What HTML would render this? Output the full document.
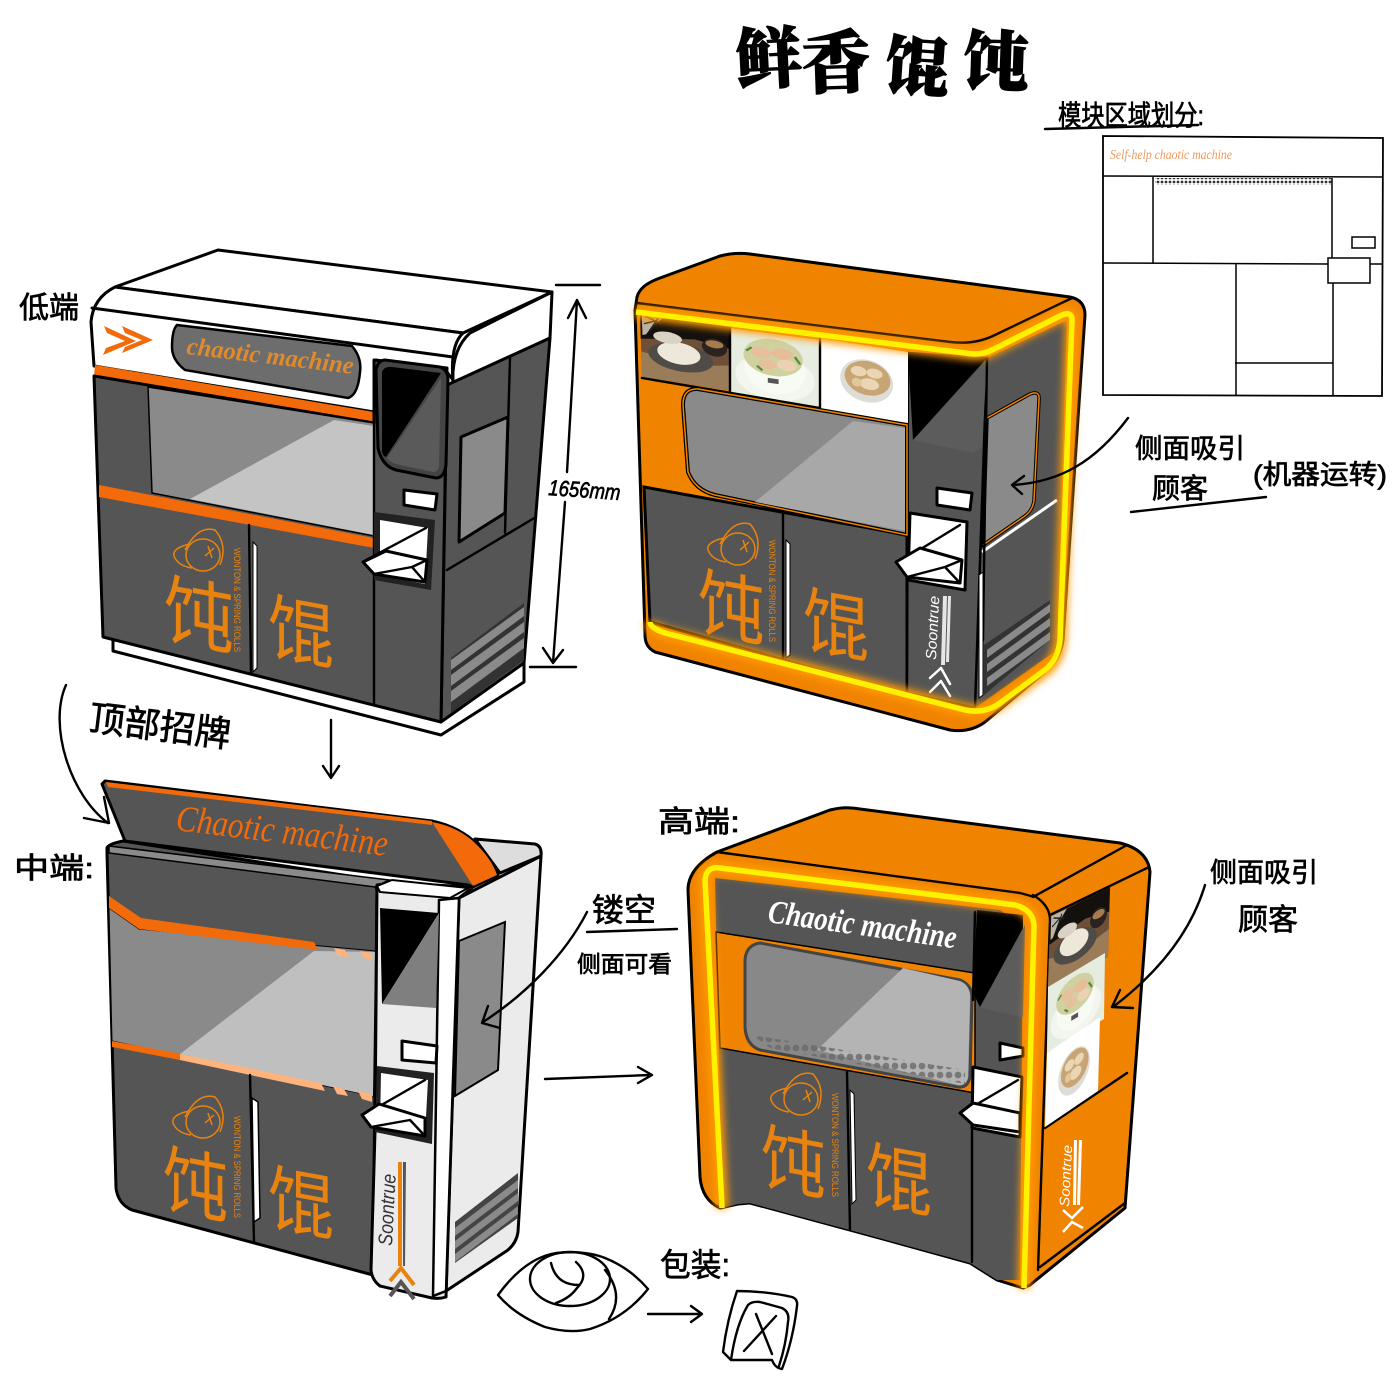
<!DOCTYPE html>
<html lang="zh"><head><meta charset="utf-8"><title>鲜香馄饨</title>
<style>
html,body{margin:0;padding:0;background:#fff}
svg{display:block}
.h{font-family:"Liberation Sans","WenQuanYi Zen Hei","Noto Sans CJK SC",sans-serif;fill:#000;stroke:#000;stroke-width:.7}
.lg{font-family:"Liberation Sans","Noto Sans CJK SC",sans-serif;fill:#e8830f}
.w{font-family:"Liberation Sans",sans-serif;fill:#e8830f}
.s{fill:none;stroke:#000;stroke-width:2.4;stroke-linecap:round;stroke-linejoin:round}
.o{stroke:#000;stroke-width:3;stroke-linejoin:round}
.tt{font-family:"Noto Serif CJK SC",serif;font-weight:900;fill:#000;stroke:#000;stroke-width:1.5}
</style></head><body>
<svg xmlns="http://www.w3.org/2000/svg" width="1400" height="1400" viewBox="0 0 1400 1400">
<defs>
<filter id="b" x="-20%" y="-20%" width="140%" height="140%"><feGaussianBlur stdDeviation="4"/></filter>
<pattern id="d" width="4" height="4" patternUnits="userSpaceOnUse"><circle cx="2" cy="2" r="1.4" fill="#333"/></pattern>
<pattern id="d2" width="9" height="9" patternUnits="userSpaceOnUse"><circle cx="4" cy="4" r="3.4" fill="#6a6a6a"/></pattern>
<g id="p1"><rect width="100" height="100" fill="#6e5038"/><path d="M0 0H100V35L60 28L0 40Z" fill="#14100e"/><path d="M2 0H28L14 16L6 32L2 34Z" fill="#b9b3a8"/><path d="M6 4L24 12M4 16L18 8M10 26L20 4" stroke="#222" stroke-width="2"/><path d="M0 60L60 70L100 60V100H0Z" fill="#9a7c58"/><ellipse cx="44" cy="60" rx="36" ry="22" fill="#4f4c48"/><ellipse cx="42" cy="54" rx="24" ry="17" fill="#eee8da"/><ellipse cx="30" cy="32" rx="16" ry="9" fill="#d9d3c6"/><ellipse cx="82" cy="36" rx="14" ry="14" fill="#2a2320"/><ellipse cx="82" cy="31" rx="10" ry="6" fill="#a77b4d"/></g>
<g id="p2"><rect width="100" height="100" fill="#e7ece0"/><ellipse cx="50" cy="64" rx="44" ry="34" fill="#f3f6ee"/><ellipse cx="50" cy="52" rx="34" ry="36" fill="#f8faf4"/><ellipse cx="48" cy="35" rx="33" ry="27" fill="#cfd1a0"/><ellipse cx="35" cy="30" rx="11" ry="8" fill="#e8bf9c"/><ellipse cx="58" cy="28" rx="12" ry="8" fill="#e6bd98"/><ellipse cx="42" cy="46" rx="10" ry="7" fill="#e8bf9c"/><ellipse cx="63" cy="44" rx="11" ry="8" fill="#ecd2b2"/><path d="M18 30L24 24M72 30L78 40M30 50L36 56" stroke="#5c8a3c" stroke-width="3"/><rect x="42" y="66" width="12" height="7" fill="#555"/></g>
<g id="p3"><rect width="100" height="100" fill="#fff"/><ellipse cx="53" cy="50" rx="30" ry="30" fill="#dedcd6"/><ellipse cx="54" cy="46" rx="26" ry="24" fill="#c8a574"/><ellipse cx="44" cy="38" rx="9" ry="7" fill="#ead6b4"/><ellipse cx="62" cy="38" rx="9" ry="7" fill="#ead6b4"/><ellipse cx="56" cy="54" rx="11" ry="8" fill="#ead6b4"/><ellipse cx="42" cy="54" rx="6" ry="6" fill="#e2c79d"/></g>
</defs>
<rect width="1400" height="1400" fill="#fff"/>

<!-- title -->
<text class="tt" transform="translate(737 84) rotate(-3)" font-size="66">鲜</text>
<text class="tt" transform="translate(803 88) rotate(-2)" font-size="68">香</text>
<text class="tt" transform="translate(884 88) rotate(4)" font-size="64">馄</text>
<text class="tt" transform="translate(962 84) rotate(2)" font-size="66">饨</text>

<!-- MACHINE 1 -->
<path class="o" d="M113 640V651L441 735L524 682V660Z" fill="#fff"/>
<path class="o" d="M115 287L218 250L552 292L463 333Z" fill="#fff"/>
<path class="o" d="M552 292L550 338L453 385Q451 350 470 333Z" fill="#fff"/>
<path class="o" d="M447 385L550 338L524 663L441 722Z" fill="#555"/>
<path class="o" d="M461 437L508 417L505 513L459 542Z" fill="#8a8a8a" stroke-width="1.5"/>
<path class="s" d="M510 358L505 533M447 570L536 517"/>
<path class="o" d="M91 322Q93 298 115 287L463 333Q450 345 453 380L447 372L376 360L374 412L94 366Z" fill="#fff"/>
<path class="s" d="M92 308L453 357" style="stroke-width:3"/>
<path d="M95 365L374 412V423L94 376Z" fill="#f26a0a"/>
<path class="o" d="M94 376L374 423V360L447 368L441 722L103 637Z" fill="#555"/>
<path d="M148 387L374 423V536L152 493Z" fill="#8a8a8a" stroke="#000" stroke-width="1.5"/>
<path d="M334 420L374 426V535L190 499Z" fill="#c4c4c4"/>
<path d="M99 485L374 538V548L99 497Z" fill="#f26a0a"/>
<path class="s" d="M374 420V705"/>
<path class="s" d="M249 525L251 673"/>
<path d="M253 542L257 546V668L253 672Z" fill="#fff" stroke="#000"/>
<path class="o" d="M376 370Q378 360 385 360L440 367Q448 370 448 380L446 465Q444 478 436 478L396 470Q382 466 378 448Z" fill="#444"/>
<path d="M382 372Q384 366 392 367L441 373L386 457Q382 456 382 450Z" fill="#000"/>
<path d="M441 378L439 466Q438 472 433 472L396 464Q390 462 387 458Z" fill="#5a5a5a"/>
<path class="o" d="M404 490L437 494L435 510L404 505Z" fill="#fff"/>
<path d="M374 512L435 520L431 590L374 580Z" fill="#222"/>
<path d="M380 520L428 528L425 584L380 575Z" fill="#fff"/>
<path class="s" d="M366 560L426 528M386 551L427 560"/>
<path class="o" d="M363 562L386 551L427 560L425 582L374 574Z" fill="#fff" stroke-width="2"/>
<path class="s" d="M374 574L412 567L425 582M412 567L427 560"/>
<path d="M451 658L524 603V660L451 713Z" fill="#333"/>
<path d="M451 660L524 607V616L451 670ZM451 675L524 622V632L451 686ZM451 691L524 638V648L451 702Z" fill="#8a8a8a"/>
<path d="M177 325L352 346Q362 358 360 372Q358 395 348 398L185 370Q172 360 172 347Q172 330 177 325Z" fill="#6d6d6d" stroke="#000" stroke-width="2.5"/>
<text transform="translate(186 354) rotate(6.8)" font-size="25" font-weight="700" font-style="italic" style="font-family:'Liberation Serif',serif" fill="#e08a2e" textLength="168" lengthAdjust="spacingAndGlyphs">chaotic machine</text>
<path d="M104 326L136 341L103 355L106 348L125 341L107 333ZM122 326L153 340L122 353L125 347L142 340L125 333Z" fill="#f26a0a"/>
<g fill="none" stroke="#e8830f" stroke-width="1.5"><path d="M190 544Q172 548 174 556Q178 566 192 568"/><ellipse cx="203" cy="555" rx="17" ry="16"/><path d="M185 550Q198 525 215 530Q228 545 220 565M205 556L214 548M208 546L212 558"/></g>
<text class="lg" transform="matrix(.92 .17 0 1 164 636)" font-size="76">饨</text>
<text class="lg" transform="matrix(.92 .17 0 1 268 652)" font-size="72">馄</text>
<text class="w" transform="translate(234 548) rotate(90)" font-size="9.5" textLength="104" lengthAdjust="spacingAndGlyphs">WONTON &amp; SPRING ROLLS</text>

<!-- labels -->
<text class="h" x="19" y="318" font-size="30">低端</text>
<text class="h" transform="translate(88 730) rotate(7)" font-size="36" textLength="142" lengthAdjust="spacingAndGlyphs">顶部招牌</text>
<text class="h" transform="translate(548 495) rotate(4)" font-size="22" font-style="italic" textLength="72" lengthAdjust="spacingAndGlyphs">1656mm</text>
<path class="s" d="M556 285H600M530 667H576M577 300L567 472M565 502L553 663M568 318L577 300L586 318M543 648L553 663L563 650"/>
<path class="s" d="M66 685C48 725 70 795 108 823M104 797L109 823L84 818M331 720V776M323 766L331 778L339 766"/>

<!-- MACHINE 2 -->
<path class="o" d="M637 297Q640 285 660 278L720 256Q735 252 750 254L1070 297Q1085 300 1085 315L1063 640Q1060 660 1045 672L985 722Q970 733 950 730L655 652Q645 647 645 635L635 310Z" fill="#f08300"/>
<path class="s" d="M637 303L950 342Q975 345 995 335L1072 298"/>
<path d="M987 358L1067 320L1057 650L975 708Z" fill="#555"/>
<path d="M987 418L1030 394Q1040 390 1039 400L1034 500Q1033 510 1025 516L983 545Z" fill="#8a8a8a" stroke="#000" stroke-width="3.5"/>
<path d="M987 418L1030 394Q1040 390 1039 400L1034 500Q1033 510 1025 516L983 545" fill="none" stroke="#f08300" stroke-width="1.5"/>
<path d="M982 552L1057 500" stroke="#fff" stroke-width="3"/>
<path d="M984 645L1050 600V640L984 695Z" fill="#333"/>
<path d="M987 650L1050 604V612L987 658ZM987 664L1050 618V626L987 672ZM987 678L1050 632V640L987 686Z" fill="#8a8a8a"/>
<path d="M644 487L907 535V693L910 696L650 622Z" fill="#555" stroke="#000" stroke-width="3"/>
<path d="M908 353L987 358L975 708L907 693Z" fill="#555" stroke="#000" stroke-width="2.5"/>
<use href="#p1" transform="matrix(.9 .14 .02 .64 640 313)"/>
<use href="#p2" transform="matrix(.9 .12 0 .68 730 328)"/>
<use href="#p3" transform="matrix(.88 .14 0 .71 820 338)"/>
<path class="s" d="M730 328V393M820 338V408M642 378L820 408"/>
<path d="M698 389L907 425V535L715 495Q695 490 688 472L683 405Q683 388 698 389Z" fill="#8a8a8a" stroke="#000" stroke-width="4"/>
<path d="M698 389L907 425V535L715 495Q695 490 688 472L683 405Q683 388 698 389Z" fill="none" stroke="#f08300" stroke-width="1.5"/>
<path d="M853 421L905 428V531L755 502Z" fill="#a8a8a8"/>
<path d="M908 352L987 358L913 440Z" fill="#000"/>
<path d="M987 360L982 447L973 453L913 440Z" fill="#5c5c5c"/>
<path class="s" d="M783 513V660M987 358L983 640"/>
<path d="M786 540L790 544V655L786 658Z" fill="#fff" stroke="#000"/>
<path d="M979 575L983 572V695L979 698Z" fill="#fff" stroke="#000"/>
<path class="o" d="M937 488L972 493L970 510L937 505Z" fill="#fff"/>
<path class="o" d="M910 513L967 522L965 590L908 580Z" fill="#fff"/>
<path class="s" d="M898 563L960 525M920 548L962 560"/>
<path class="o" d="M896 562L920 548L962 560L960 583L907 577Z" fill="#fff" stroke-width="2"/>
<path class="s" d="M907 577L945 567L960 583M945 567L962 560"/>
<g fill="none" stroke="#e8830f" stroke-width="1.5"><path d="M724 538Q706 542 708 550Q712 560 726 562"/><ellipse cx="738" cy="549" rx="17" ry="16"/><path d="M720 544Q733 519 750 524Q763 539 755 559M740 550L749 542M743 540L747 552"/></g>
<text class="lg" transform="matrix(.9 .17 0 1 698 628)" font-size="74">饨</text>
<text class="lg" transform="matrix(.92 .17 0 1 803 645)" font-size="72">馄</text>
<text class="w" transform="translate(769 540) rotate(90)" font-size="9.5" textLength="102" lengthAdjust="spacingAndGlyphs">WONTON &amp; SPRING ROLLS</text>
<text transform="translate(936 660) rotate(-87)" font-size="15" font-style="italic" font-family="Liberation Sans,sans-serif" fill="#fff" textLength="64" lengthAdjust="spacingAndGlyphs">Soontrue</text>
<path d="M943 596L947 596L945 665H941ZM948 596L951 596L949 662H946Z" fill="#e6e6e6"/>
<path class="s" d="M930 678L941 668L950 684M930 692L941 681L950 696" style="stroke:#fff;stroke-width:2.5"/>
<path d="M636 312L965 353Q980 356 992 350L1060 316Q1072 310 1072 320L1060 640Q1058 660 1045 670L1000 703Q985 714 965 710L665 633Q650 628 650 622" fill="none" stroke="#ff9a00" stroke-width="13" filter="url(#b)"/>
<path d="M636 312L965 353Q980 356 992 350L1060 316Q1072 310 1072 320L1060 640Q1058 660 1045 670L1000 703Q985 714 965 710L665 633Q650 628 650 622" fill="none" stroke="#fff200" stroke-width="5.5"/>

<!-- arrow 2 -->
<path class="s" d="M1128 418C1095 462 1060 482 1013 485M1024 476L1012 485L1022 494"/>
<text class="h" x="1135" y="458" font-size="27" textLength="110" lengthAdjust="spacingAndGlyphs">侧面吸引</text>
<text class="h" x="1152" y="498" font-size="28">顾客</text>
<text class="h" x="1253" y="484" font-size="27" textLength="134" lengthAdjust="spacingAndGlyphs">(机器运转)</text>
<path class="s" d="M1131 512L1266 497"/>

<!-- module diagram -->
<text class="h" x="1058" y="125" font-size="28" textLength="146" lengthAdjust="spacingAndGlyphs">模块区域划分:</text>
<path class="s" d="M1045 129L1198 125" style="stroke-width:2.5"/>
<path d="M1103 136L1383 138L1382 396L1103 395Z" fill="#fff" stroke="#000" stroke-width="1.8"/>
<path d="M1155 178H1332V185H1155Z" fill="url(#d)"/>
<path fill="none" stroke="#000" stroke-width="1.5" d="M1103 176L1383 177M1153 177V263M1332 178V258M1103 263L1328 264M1370 264H1383M1236 263V395M1333 283V395M1235 363H1333M1328 258H1370V283H1328ZM1352 237H1375V248H1352Z"/>
<text x="1110" y="159" font-size="14" fill="#ef9a5c" font-family="Liberation Serif,serif" font-style="italic" textLength="122" lengthAdjust="spacingAndGlyphs">Self-help chaotic machine</text>

<!-- MACHINE 3 -->
<path class="o" d="M475 839L535 844Q542 846 541 856L500 873Z" fill="#ddd"/>
<path class="o" d="M459 898L541 856L518 1232Q516 1245 505 1252L446 1291Z" fill="#ebebeb"/>
<path d="M459 941L505 922L498 1070L455 1096Z" fill="#8a8a8a" stroke="#000" stroke-width="2"/>
<path d="M455 1222L518 1173V1218L455 1263Z" fill="#444"/>
<path d="M455 1228L518 1180V1188L455 1236ZM455 1241L518 1193V1201L455 1249ZM455 1254L518 1206V1214L455 1262Z" fill="#8a8a8a"/>
<path class="o" d="M107 853V848Q108 844 123 841L375 880L377 891L373 1275L132 1210Q118 1204 116 1188Z" fill="#555"/>
<path d="M109 846L389 880L375 887L109 853Z" fill="#8a8a8a" stroke="#000" stroke-width="1.5"/>
<path d="M109 908L139 929L375 951L373 1096L112 1041Z" fill="#8a8a8a" stroke="#000" stroke-width="1"/>
<path d="M314 951L375 952L373 1096L180 1054Z" fill="#bfbfbf"/>
<path d="M109 896L141 918L314 942L318 950L139 929L109 908Z" fill="#f26a0a"/>
<path d="M334 948L345 950L349 957L338 956ZM360 951L372 953V960L364 958Z" fill="#ffb37d"/>
<path d="M112 1041L182 1054L180 1060L112 1047Z" fill="#f26a0a"/>
<path d="M180 1054L321 1083L325 1091L180 1060ZM333 1086L344 1089L348 1096L337 1094ZM358 1091L372 1094V1102L362 1099Z" fill="#ffb37d"/>
<path class="o" d="M102 784L105 781L432 821Q460 827 478 845Q492 860 498 875L473 887L468 885L125 841Z" fill="#555"/>
<path d="M106 782L432 821V825L108 787Z" fill="#f26a0a"/>
<path d="M432 822Q460 827 478 846Q492 860 497 875L473 886Z" fill="#f26a0a"/>
<text transform="translate(175 830) rotate(7)" font-size="37" font-style="italic" style="font-family:'Liberation Serif',serif" fill="#f26a0a" textLength="213" lengthAdjust="spacingAndGlyphs">Chaotic machine</text>
<path class="o" d="M377 885L394 883L473 887L459 898L446 1297Q440 1299 432 1298L380 1286Q372 1280 371 1270L375 1132Z" fill="#ebebeb"/>
<path d="M439 900L459 898L446 1291L433 1296Z" fill="#fff" stroke="#000" stroke-width="2.5"/>
<path d="M377 886L392 880L468 888L450 898L380 892Z" fill="#fff" stroke="#000" stroke-width="2"/>
<path d="M380 908L439 913L382 1004Z" fill="#000"/>
<path d="M439 913L436 1008L382 1004Z" fill="#7f7f7f"/>
<path class="s" d="M250 1075L254 1242"/>
<path d="M252 1098L258 1102L260 1218L254 1222Z" fill="#fff" stroke="#000" stroke-width="1.5"/>
<path class="o" d="M402 1041L437 1046L436 1063L402 1060Z" fill="#fff"/>
<path d="M377 1066L434 1073L432 1144L375 1132Z" fill="#222"/>
<path d="M381 1073L428 1080L425 1136L380 1126Z" fill="#fff"/>
<path class="s" d="M364 1115L425 1080M379 1104L425 1118"/>
<path class="o" d="M362 1115L379 1104L425 1118L425 1136L371 1127Z" fill="#fff" stroke-width="2"/>
<path class="s" d="M371 1127L410 1120L425 1136"/>
<g fill="none" stroke="#e8830f" stroke-width="1.5"><path d="M189 1111Q171 1115 173 1123Q177 1133 191 1135"/><ellipse cx="203" cy="1122" rx="17" ry="16"/><path d="M185 1117Q198 1092 215 1097Q228 1112 220 1132M205 1123L214 1115M208 1113L212 1125"/></g>
<text class="lg" transform="matrix(.88 .17 0 1 163 1205)" font-size="74">饨</text>
<text class="lg" transform="matrix(.92 .17 0 1 268 1223)" font-size="72">馄</text>
<text class="w" transform="translate(234 1116) rotate(90)" font-size="9.5" textLength="102" lengthAdjust="spacingAndGlyphs">WONTON &amp; SPRING ROLLS</text>
<text transform="translate(392 1246) rotate(-87)" font-size="20" font-style="italic" font-family="Liberation Sans,sans-serif" fill="#333" textLength="72" lengthAdjust="spacingAndGlyphs">Soontrue</text>
<path d="M398 1162L402 1162L402 1266H398Z" fill="#e8830f"/><path d="M403 1162L406 1162L405 1266H403Z" fill="#555"/>
<path d="M390 1281L401 1268L414 1285" fill="none" stroke="#e8830f" stroke-width="4"/>
<path d="M390 1296L401 1282L414 1299" fill="none" stroke="#555" stroke-width="4"/>

<text class="h" x="14" y="878" font-size="29" textLength="80" lengthAdjust="spacingAndGlyphs">中端:</text>
<path class="s" d="M587 912C565 955 525 995 483 1022M488 1006L482 1023L500 1028M545 1079L650 1075M638 1067L652 1075L638 1083"/>
<text class="h" x="592" y="921" font-size="32">镂空</text>
<path class="s" d="M587 932L677 929"/>
<text class="h" x="577" y="972" font-size="23" textLength="95" lengthAdjust="spacingAndGlyphs">侧面可看</text>

<!-- MACHINE 4 -->
<path class="o" d="M717 852L830 810Q845 806 860 809L1120 843Q1148 850 1150 872L1125 1208L1030 1285L1023 1288L997 1280L970 1263L850 1230L750 1203L738 1204L720 1208Q702 1200 700 1177L688 890Q688 868 717 852Z" fill="#f08300"/>
<path class="s" d="M717 852L1020 893Q1035 897 1033 897L1127 845M1033 895Q1050 905 1050 920L1038 1270M1050 915L1147 868M1040 1267L1125 1203M1045 1128L1127 1073"/>
<use href="#p1" transform="matrix(.6 -.3 -.02 .7 1050 917)"/>
<use href="#p2" transform="matrix(.57 -.34 -.01 .66 1048 987)"/>
<use href="#p3" transform="matrix(.53 -.36 -.02 .74 1047 1053)"/>
<path d="M715 878L1000 910L1023 925L1020 1280L997 1280L970 1263L850 1230L750 1203L738 1204L722 1208Z" fill="#555"/>
<path d="M716 932L975 973V1093L720 1048Z" fill="#f08300" stroke="#000" stroke-width="1.5"/>
<path d="M722 1052L970 1097V1262L850 1230L750 1203L735 1204Z" fill="#555"/>
<path d="M760 943L960 980Q972 985 972 997L970 1077Q968 1088 958 1087L760 1050Q746 1045 745 1027V960Q746 945 760 943Z" fill="#888" stroke="#444" stroke-width="3"/>
<path d="M903 968L960 981Q970 985 970 997L968 1077Q966 1086 958 1085L817 1050Z" fill="#b4b4b4"/>
<path d="M752 1035L965 1070V1084L770 1048Z" fill="url(#d2)" opacity=".8"/>
<path d="M977 910L1023 915V928L980 1007L973 993Z" fill="#000"/>
<path d="M1025 925L1023 1017L980 1008Z" fill="#5c5c5c"/>
<path class="s" d="M847 1072L850 1230M972 1100V1262M975 912L973 1000"/>
<path d="M850 1090L854 1094L856 1200L852 1204Z" fill="#fff" stroke="#000"/>
<path class="o" d="M1000 1043L1023 1048V1056L1000 1060Z" fill="#fff" stroke-width="2"/>
<path class="o" d="M973 1067L1022 1077L1020 1137L972 1128Z" fill="#fff" stroke-width="2"/>
<path class="s" d="M962 1113L1018 1080M973 1103L1020 1113"/>
<path class="o" d="M960 1113L973 1103L1020 1113V1132L973 1125Z" fill="#fff" stroke-width="2"/>
<g fill="none" stroke="#e8830f" stroke-width="1.5"><path d="M787 1088Q769 1092 771 1100Q775 1110 789 1112"/><ellipse cx="801" cy="1099" rx="17" ry="16"/><path d="M783 1094Q796 1069 813 1074Q826 1089 818 1109M803 1100L812 1092M806 1090L810 1102"/></g>
<text class="lg" transform="matrix(.9 .17 0 1 761 1182)" font-size="72">饨</text>
<text class="lg" transform="matrix(.92 .17 0 1 866 1200)" font-size="72">馄</text>
<text class="w" transform="translate(832 1093) rotate(90)" font-size="9.5" textLength="104" lengthAdjust="spacingAndGlyphs">WONTON &amp; SPRING ROLLS</text>
<text transform="translate(767 922) rotate(8)" font-size="33" font-weight="700" font-style="italic" style="font-family:'Liberation Serif',serif" fill="#fff" textLength="190" lengthAdjust="spacingAndGlyphs">Chaotic machine</text>
<text transform="translate(1069 1207) rotate(-87)" font-size="14" font-style="italic" font-family="Liberation Sans,sans-serif" fill="#fff" textLength="62" lengthAdjust="spacingAndGlyphs">Soontrue</text>
<path d="M1074 1140H1077L1076 1205H1073ZM1079 1140H1082L1080 1205H1077Z" fill="#fff"/>
<path d="M1063 1210L1072 1218L1083 1207M1063 1232L1072 1222L1083 1228" fill="none" stroke="#fff" stroke-width="2.5"/>
<path d="M722 1208L705 880Q706 866 720 868L1015 905Q1033 910 1034 925L1024 1288" fill="none" stroke="#ff9a00" stroke-width="13" filter="url(#b)"/>
<path d="M722 1208L705 880Q706 866 720 868L1015 905Q1033 910 1034 925L1024 1288" fill="none" stroke="#fff200" stroke-width="5.5"/>

<text class="h" x="658" y="832" font-size="30" textLength="82" lengthAdjust="spacingAndGlyphs">高端:</text>
<path class="s" d="M1205 885C1190 935 1155 975 1113 1007M1120 990L1112 1007L1133 1008"/>
<text class="h" x="1210" y="882" font-size="27" textLength="108" lengthAdjust="spacingAndGlyphs">侧面吸引</text>
<text class="h" x="1238" y="930" font-size="30">顾客</text>

<!-- eye & packaging -->
<path class="s" d="M498 1295Q525 1258 556 1253Q585 1250 605 1258Q630 1268 648 1289Q625 1318 590 1329Q570 1334 545 1327Q515 1315 498 1295Z"/>
<ellipse class="s" cx="570" cy="1279" rx="40" ry="27"/>
<path class="s" d="M605 1270Q625 1295 609 1319M551 1263Q556 1285 579 1285M576 1262Q590 1275 577 1288Q570 1298 556 1303"/>
<path class="s" d="M648 1314L701 1314M691 1306L702 1314L691 1322"/>
<path class="s" d="M737 1291Q765 1291 792 1297Q798 1299 797 1306Q793 1340 782 1369Q775 1368 772 1360L731 1360L723 1352Q727 1320 737 1291Z"/>
<path class="s" d="M731 1360Q736 1325 748 1305Q752 1301 760 1302L782 1308Q790 1312 788 1322Q786 1345 779 1366M756 1314L772 1354M776 1316L744 1351"/>
<text class="h" x="660" y="1276" font-size="32" textLength="70" lengthAdjust="spacingAndGlyphs">包装:</text>
</svg>
</body></html>
